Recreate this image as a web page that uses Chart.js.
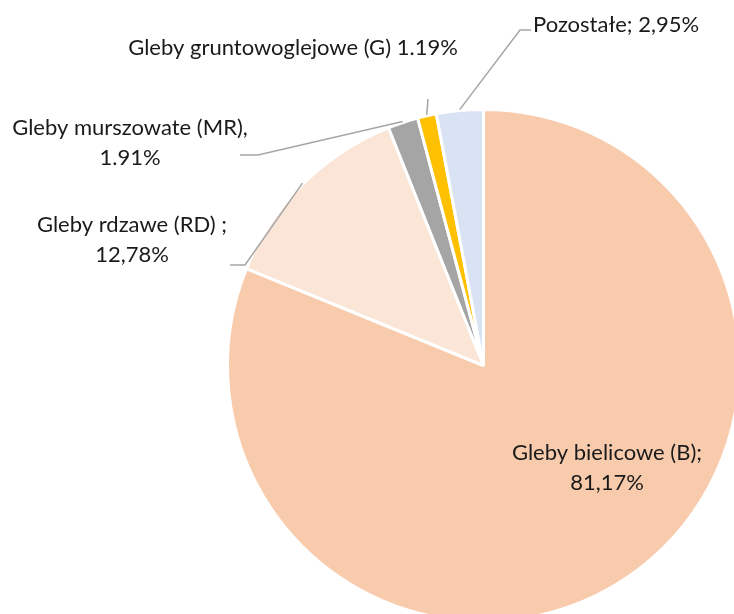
<!DOCTYPE html>
<html>
<head>
<meta charset="utf-8">
<script src="https://cdn.jsdelivr.net/npm/chart.js@4.4.1/dist/chart.umd.min.js"></script>
<style>
  html, body { margin: 0; padding: 0; background: #fff; overflow: hidden; }
  #wrap { position: absolute; left: 0; top: 0; width: 760px; height: 640px; }
</style>
</head>
<body>
<div id="wrap"><canvas id="chart"></canvas></div>
<script>
// data
const names = ['Gleby bielicowe (B)', 'Gleby rdzawe (RD)', 'Gleby murszowate (MR)', 'Gleby gruntowoglejowe (G)', 'Pozostałe'];
const values = [81.17, 12.78, 1.91, 1.19, 2.95];
const colors = ['#F8CBAD', '#FBE5D6', '#A5A5A5', '#FFC000', '#DAE3F3'];

function pct(v, sep) {
  return v.toFixed(2).replace('.', sep) + '%';
}

// label text as in the original (mixed separators)
const labelLines = [
  [names[0] + ';', pct(values[0], ',')],
  [names[1] + ' ;', pct(values[1], ',')],
  [names[2] + ',', pct(values[2], '.')],
  [names[3] + ' ' + pct(values[3], '.')],
  [names[4] + '; ' + pct(values[4], ',')]
];

// label placement: text anchor, alignment, leader points (after the arc edge)
const labelLayout = [
  { x: 607, y: 453, align: 'center', leader: null },
  { x: 132, y: 225, align: 'center', leader: [[245, 265], [230, 265]] },
  { x: 130, y: 128, align: 'center', leader: [[258, 155], [240, 155]] },
  { x: 293, y: 48, align: 'center', leader: [[428, 99]] },
  { x: 533, y: 25, align: 'left', leader: [[520, 30], [531, 30]] }
];

const FONT = '22px Lato, "Open Sans", sans-serif';
const LINE_H = 30;

const labelPlugin = {
  id: 'pieLabels',
  afterDatasetsDraw(chart) {
    const ctx = chart.ctx;
    const arcs = chart.getDatasetMeta(0).data;
    ctx.save();
    arcs.forEach((arc, i) => {
      const p = arc.getProps(['x', 'y', 'startAngle', 'endAngle', 'outerRadius'], true);
      const lay = labelLayout[i];
      if (lay.leader) {
        const mid = (p.startAngle + p.endAngle) / 2;
        const sx = p.x + Math.cos(mid) * (p.outerRadius + 1);
        const sy = p.y + Math.sin(mid) * (p.outerRadius + 1);
        ctx.beginPath();
        ctx.moveTo(sx, sy);
        lay.leader.forEach(pt => ctx.lineTo(pt[0], pt[1]));
        ctx.strokeStyle = '#A6A6A6';
        ctx.lineWidth = 1.5;
        ctx.stroke();
      }
      ctx.font = FONT;
      ctx.fillStyle = '#1a1a1a';
      ctx.textAlign = lay.align;
      ctx.textBaseline = 'middle';
      labelLines[i].forEach((line, k) => {
        ctx.fillText(line, lay.x, lay.y + k * LINE_H);
      });
    });
    ctx.restore();
  }
};

const ctx = document.getElementById('chart').getContext('2d');
new Chart(ctx, {
  type: 'pie',
  data: {
    labels: names,
    datasets: [{
      data: values,
      backgroundColor: colors,
      borderColor: '#ffffff',
      borderWidth: 3,
      hoverOffset: 0
    }]
  },
  options: {
    responsive: true,
    maintainAspectRatio: false,
    animation: false,
    events: [],
    layout: { padding: { left: 226, top: 108, right: 19, bottom: 17 } },
    plugins: {
      legend: { display: false },
      tooltip: { enabled: false }
    }
  },
  plugins: [labelPlugin]
});
</script>
</body>
</html>
